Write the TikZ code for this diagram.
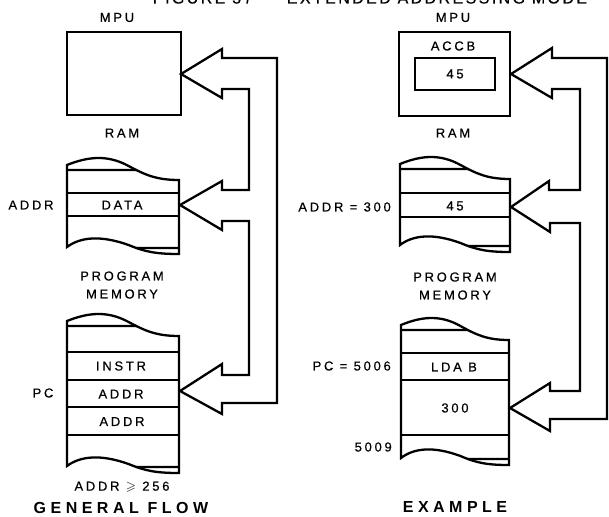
\documentclass[tikz,border=0pt]{standalone}
\usepackage{amssymb}
\usepackage{fontspec}
\setmainfont{Liberation Sans}
\newfontfamily\labfont{Liberation Sans}[LetterSpace=21, FakeBold=0.5]
\newfontfamily\bigfont{Liberation Sans}[LetterSpace=28]
\newfontfamily\titlefont{Liberation Sans}[LetterSpace=15, FakeBold=0.5]
\usetikzlibrary{intersections}

\tikzset{
  ln/.style={line width=2.3pt, line join=miter, draw=black},
  lab/.style={font=\labfont\fontsize{13}{15}\selectfont, inner sep=0pt},
  bigl/.style={font=\bigfont\bfseries\fontsize{16}{18}\selectfont, inner sep=0pt},
  ttl/.style={font=\titlefont\fontsize{16}{18}\selectfont, inner sep=0pt, anchor=base}
}

% memory stack: L R T B
\newcommand\memstack[4]{%
  \pgfmathsetmacro\W{#2-#1}%
  \draw[ln] (#1,#4) -- (#1,#3)
    .. controls ({#1+0.2*\W},{#3-9}) and ({#1+0.37*\W},{#3-10}) .. ({#1+0.55*\W},{#3+1})
    .. controls ({#1+0.7*\W},{#3+10}) and ({#1+0.8*\W},{#3+15}) .. (#2,{#3+15})
    -- (#2,{#4+7})
    .. controls ({#1+0.8*\W},{#4+7}) and ({#1+0.7*\W},{#4+5}) .. ({#1+0.55*\W},{#4-2})
    .. controls ({#1+0.3*\W},{#4-12}) and ({#1+0.12*\W},{#4-10}) .. (#1,#4) -- cycle;
  \path[name path=tc] (#1,#3)
    .. controls ({#1+0.2*\W},{#3-9}) and ({#1+0.37*\W},{#3-10}) .. ({#1+0.55*\W},{#3+1})
    .. controls ({#1+0.7*\W},{#3+10}) and ({#1+0.8*\W},{#3+15}) .. (#2,{#3+15});
  \path[name path=tl] (#1,{#3+5}) -- (#2,{#3+5});
  \draw[ln, name intersections={of=tc and tl, by=tx}] (#1,{#3+5}) -- (tx);
  \path[name path=bc] (#2,{#4+7})
    .. controls ({#1+0.8*\W},{#4+7}) and ({#1+0.7*\W},{#4+5}) .. ({#1+0.55*\W},{#4-2})
    .. controls ({#1+0.3*\W},{#4-12}) and ({#1+0.12*\W},{#4-10}) .. (#1,#4);
  \path[name path=bl] (#1,{#4+1}) -- (#2,{#4+1});
  \draw[ln, name intersections={of=bc and bl, by=bx}] (bx) -- (#2,{#4+1});
}

\begin{document}
\begin{tikzpicture}[x=1pt,y=-1pt]
\useasboundingbox (0,0) rectangle (609,516);
\fill[white] (0,0) rectangle (609,516);

% partly cut title
\node[ttl] (title) at (370,3.5) {FIGURE 37 --- EXTENDED ADDRESSING MODE};

%================ LEFT: GENERAL FLOW ================
\node[lab] (mpuL) at (117,17.5) {MPU};
\draw[ln] (67,32) rectangle (181,115);

\node[lab] (ramL) at (122,133) {RAM};
\memstack{67}{179}{165}{247}
\draw[ln] (67,193) -- (179,193);
\draw[ln] (67,216) -- (179,216);
\node[lab] (addrL) at (31,205) {ADDR};
\node[lab] (data) at (122,205) {DATA};

\node[lab] (progL) at (122,276) {PROGRAM};
\node[lab] (memL) at (122,294) {MEMORY};
\memstack{67}{179}{321}{466}
\draw[ln] (67,352) -- (179,352);
\draw[ln] (67,380) -- (179,380);
\draw[ln] (67,407) -- (179,407);
\draw[ln] (67,435) -- (179,435);
\node[lab] (instr) at (121,366) {INSTR};
\node[lab] (addra) at (121,394) {ADDR};
\node[lab] (addrb) at (122,421.5) {ADDR};
\node[lab] (pcL) at (43,393) {PC};
\node[lab] (cond) at (122,487) {ADDR $\geqslant$ 256};
\node[bigl] (gflow) at (121,508) {GENERAL FLOW};

% bus with three arrowheads
\draw[ln] (181,74) -- (222,49) -- (222,58) -- (277,58) -- (277,403)
  -- (222,403) -- (222,414) -- (180,391) -- (222,364) -- (222,375)
  -- (249,375) -- (249,221) -- (222,221) -- (222,230) -- (180,205)
  -- (222,181) -- (222,190) -- (249,190) -- (249,89) -- (222,89)
  -- (222,98) -- cycle;

%================ RIGHT: EXAMPLE ================
\node[lab] (mpuR) at (453,17.5) {MPU};
\draw[ln] (399,32) rectangle (510,116);
\node[lab] (accb) at (453,46) {ACCB};
\draw[ln] (415,58) rectangle (495,90);
\node[lab] (acc45) at (455,74) {45};

\node[lab] (ramR) at (453,133) {RAM};
\memstack{400}{510}{164}{245}
\draw[ln] (400,193) -- (510,193);
\draw[ln] (400,217) -- (510,217);
\node[lab, anchor=east] (addrR) at (391,207) {ADDR = 300};
\node[lab] (ram45) at (455,206) {45};

\node[lab] (progR) at (455,277) {PROGRAM};
\node[lab] (memR) at (455,295) {MEMORY};
\memstack{401}{509}{325}{458}
\draw[ln] (401,353) -- (509,353);
\draw[ln] (401,380) -- (509,380);
\draw[ln] (401,435) -- (509,435);
\node[lab, anchor=east] (pcR) at (391,366) {PC = 5006};
\node[lab] (lda) at (454,367) {LDA B};
\node[lab] (v300) at (455,408) {300};
\node[lab, anchor=east] (a5009) at (392,447) {5009};
\node[bigl] (example) at (455,507) {EXAMPLE};

\draw[ln] (511,74) -- (552,48) -- (552,58) -- (607,58) -- (607,419)
  -- (550,419) -- (550,431) -- (510,408) -- (550,383) -- (550,391)
  -- (580,391) -- (580,223) -- (550,223) -- (550,232) -- (511,207)
  -- (549,181) -- (549,190) -- (580,190) -- (580,89) -- (552,89)
  -- (552,98) -- cycle;
\end{tikzpicture}
\end{document}
